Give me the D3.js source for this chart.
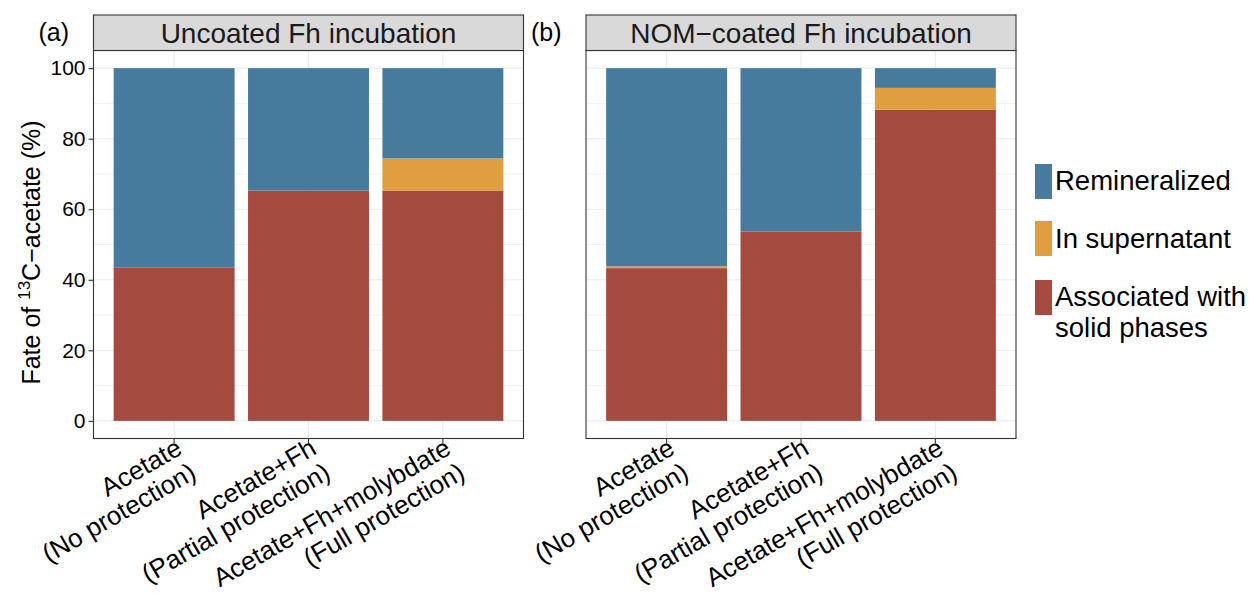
<!DOCTYPE html>
<html>
<head>
<meta charset="utf-8">
<script src="https://cdn.jsdelivr.net/npm/d3@7"></script>
<style>
  html, body { margin: 0; padding: 0; background: #ffffff; }
  svg { display: block; font-family: "Liberation Sans", Arial, sans-serif; }
</style>
</head>
<body>
<svg id="chart" width="1249" height="594"></svg>
<script>
// Treatments (two-line tick labels)
const treatments = [
  ["Acetate", "(No protection)"],
  ["Acetate+Fh", "(Partial protection)"],
  ["Acetate+Fh+molybdate", "(Full protection)"]
];
const panelTitles = ["Uncoated Fh incubation", "NOM\u2212coated Fh incubation"];
const panelTags = ["(a)", "(b)"];

// Fate of 13C-acetate (%) per treatment, uncoated ferrihydrite
const solidUncoated = [43.4, 65.3, 65.3];
const supernatantUncoated = [0.0, 0.0, 9.1];
const remineralizedUncoated = [56.6, 34.7, 25.6];

// Fate of 13C-acetate (%) per treatment, NOM-coated ferrihydrite
const solidCoated = [43.3, 53.7, 88.2];
const supernatantCoated = [0.5, 0.0, 6.2];
const remineralizedCoated = [56.2, 46.3, 5.6];

const fractions = ["Remineralized", "In supernatant", "Associated with solid phases"];
const fractionColors = ["#467b9e", "#e09f3e", "#a44a3f"];
const yTicks = [0, 20, 40, 60, 80, 100];
const yMinor = [10, 30, 50, 70, 90];

const panelData = [
  [solidUncoated, supernatantUncoated, remineralizedUncoated],
  [solidCoated, supernatantCoated, remineralizedCoated]
];

const svg = d3.select("#chart");
const panelLeft = [93.5, 586];
const panelWidth = 430;
const plotTop = 50.5, plotBottom = 438.5;
const stripTop = 15;

const y = d3.scaleLinear().domain([-5, 105]).range([plotBottom, plotTop]);
// stack order from bottom: solid, supernatant, remineralized
const stackColors = [fractionColors[2], fractionColors[1], fractionColors[0]];

panelData.forEach((series, p) => {
  const x0 = panelLeft[p];
  // discrete positions 1..3 with 0.6 expansion on each side
  const xc = d3.scaleLinear().domain([0.4, 3.6]).range([x0, x0 + panelWidth]);
  const bw = xc(1.45) - xc(0.55);

  const g = svg.append("g");

  // panel background and grid
  g.append("rect").attr("x", x0).attr("y", plotTop)
    .attr("width", panelWidth).attr("height", plotBottom - plotTop)
    .attr("fill", "#ffffff");
  g.selectAll(".minor").data(yMinor).enter().append("line")
    .attr("x1", x0).attr("x2", x0 + panelWidth)
    .attr("y1", d => y(d)).attr("y2", d => y(d))
    .attr("stroke", "#ebebeb").attr("stroke-width", 0.6);
  g.selectAll(".major").data(yTicks).enter().append("line")
    .attr("x1", x0).attr("x2", x0 + panelWidth)
    .attr("y1", d => y(d)).attr("y2", d => y(d))
    .attr("stroke", "#ebebeb").attr("stroke-width", 1.1);
  g.selectAll(".vgrid").data(treatments).enter().append("line")
    .attr("x1", (d, i) => xc(i + 1)).attr("x2", (d, i) => xc(i + 1))
    .attr("y1", plotTop).attr("y2", plotBottom)
    .attr("stroke", "#ebebeb").attr("stroke-width", 1.1);

  // stacked bars
  treatments.forEach((t, i) => {
    let base = 0;
    series.forEach((vals, s) => {
      const v = vals[i];
      if (v > 0) {
        g.append("rect")
          .attr("x", xc(i + 1) - bw / 2)
          .attr("width", bw)
          .attr("y", y(base + v))
          .attr("height", y(base) - y(base + v))
          .attr("fill", stackColors[s]);
      }
      base += v;
    });
  });

  // panel border
  g.append("rect").attr("x", x0).attr("y", plotTop)
    .attr("width", panelWidth).attr("height", plotBottom - plotTop)
    .attr("fill", "none").attr("stroke", "#333333").attr("stroke-width", 1.1);

  // strip
  g.append("rect").attr("x", x0).attr("y", stripTop)
    .attr("width", panelWidth).attr("height", plotTop - stripTop)
    .attr("fill", "#d9d9d9").attr("stroke", "#333333").attr("stroke-width", 1.1);
  g.append("text").attr("x", x0 + panelWidth / 2).attr("y", 43)
    .attr("text-anchor", "middle").attr("font-size", 28).attr("fill", "#1a1a1a")
    .text(panelTitles[p]);

  // tag
  svg.append("text").attr("x", x0 - 55).attr("y", 41)
    .attr("font-size", 25).attr("fill", "#000000").text(panelTags[p]);

  // x axis ticks and labels
  const xt = g.append("g");
  treatments.forEach((lines, i) => {
    const cx = xc(i + 1);
    xt.append("line").attr("x1", cx).attr("x2", cx)
      .attr("y1", plotBottom).attr("y2", plotBottom + 5)
      .attr("stroke", "#333333").attr("stroke-width", 1.1);
    const lab = xt.append("g").attr("transform", `translate(${cx},${plotBottom + 4}) rotate(-30)`);
    lines.forEach((ln, k) => {
      lab.append("text").attr("x", 3).attr("y", 14 + k * 28)
        .attr("text-anchor", "end").attr("font-size", 26).attr("fill", "#000000")
        .text(ln);
    });
  });

  // y axis (first panel only)
  if (p === 0) {
    const yAxis = d3.axisLeft(y).tickValues(yTicks).tickSize(5).tickPadding(3);
    const ya = svg.append("g").attr("transform", `translate(${x0},0)`).call(yAxis);
    ya.select(".domain").remove();
    ya.selectAll(".tick line").attr("stroke", "#333333").attr("stroke-width", 1.1);
    ya.selectAll(".tick text").attr("font-size", 21).attr("fill", "#000000")
      .attr("font-family", "Liberation Sans, Arial, sans-serif");
  }
});

// y axis title with superscript
const yTitle = svg.append("text")
  .attr("transform", `translate(40,${(plotTop + plotBottom) / 2 + 8}) rotate(-90)`)
  .attr("text-anchor", "middle").attr("font-size", 25).attr("fill", "#000000");
yTitle.append("tspan").text("Fate of ");
yTitle.append("tspan").attr("font-size", 17).attr("dy", -10).text("13");
yTitle.append("tspan").attr("dy", 10).text("C\u2212acetate (%)");

// legend
const legend = svg.append("g");
const legendRows = [
  { key: 0, top: 164, lines: ["Remineralized"], base: 190 },
  { key: 1, top: 221, lines: ["In supernatant"], base: 248 },
  { key: 2, top: 280, lines: ["Associated with", "solid phases"], base: 306 }
];
legendRows.forEach(r => {
  legend.append("rect").attr("x", 1035).attr("y", r.top)
    .attr("width", 17).attr("height", 35).attr("fill", fractionColors[r.key]);
  r.lines.forEach((ln, k) => {
    legend.append("text").attr("x", 1055).attr("y", r.base + k * 31)
      .attr("font-size", 27.5).attr("fill", "#000000").text(ln);
  });
});
</script>
</body>
</html>
